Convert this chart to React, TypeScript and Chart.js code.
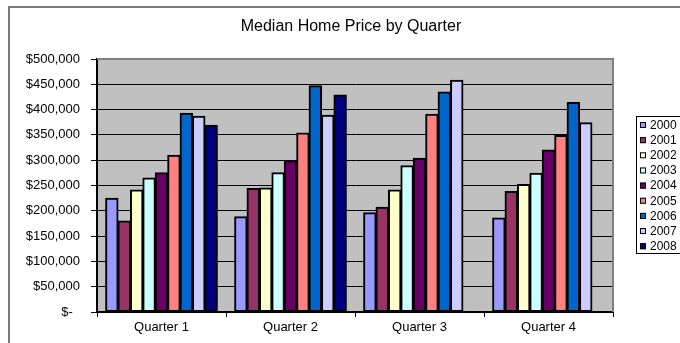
import React, { useEffect, useRef } from "react";
import { Chart, registerables } from "chart.js";

Chart.register(...registerables);

const titleText = "Median Home Price by Quarter";
const categories = ["Quarter 1", "Quarter 2", "Quarter 3", "Quarter 4"];
const years = ["2000", "2001", "2002", "2003", "2004", "2005", "2006", "2007", "2008"];

const s2000 = [225000, 188000, 196000, 186000];
const s2001 = [180000, 244000, 207000, 238000];
const s2002 = [241000, 245000, 241000, 252000];
const s2003 = [265000, 275000, 289000, 274000];
const s2004 = [275000, 299000, 304000, 320000];
const s2005 = [310000, 354000, 391000, 349000];
const s2006 = [393000, 447000, 435000, 414000];
const s2007 = [387000, 389000, 458000, 374000];
const s2008 = [369000, 429000, null, null];

const seriesValues = [s2000, s2001, s2002, s2003, s2004, s2005, s2006, s2007, s2008];
const seriesColors = ["#9999FF", "#993366", "#FFFFCC", "#CCFFFF", "#660066", "#FF8080", "#0066CC", "#CCCCFF", "#000080"];

const yTickLabels = ["$-  ", "$50,000", "$100,000", "$150,000", "$200,000", "$250,000", "$300,000", "$350,000", "$400,000", "$450,000", "$500,000"];

const FONT = "'Liberation Sans', Arial, sans-serif";

const decor = {
  id: "decor",
  beforeDraw(chart: any) {
    const { ctx, chartArea: a } = chart;
    ctx.save();
    ctx.fillStyle = "#ffffff";
    ctx.fillRect(0, 0, chart.width, chart.height);
    ctx.strokeStyle = "#7a7a7a";
    ctx.lineWidth = 2;
    ctx.beginPath();
    ctx.moveTo(9, chart.height + 2);
    ctx.lineTo(9, 7);
    ctx.lineTo(chart.width + 2, 7);
    ctx.stroke();
    ctx.fillStyle = "#C0C0C0";
    ctx.fillRect(a.left, a.top, a.right - a.left, a.bottom - a.top);
    ctx.restore();
  },
  afterDraw(chart: any) {
    const { ctx, chartArea: a } = chart;
    ctx.save();
    ctx.strokeStyle = "#808080";
    ctx.lineWidth = 2;
    ctx.beginPath();
    ctx.moveTo(a.left, a.top);
    ctx.lineTo(a.right, a.top);
    ctx.lineTo(a.right, a.bottom);
    ctx.stroke();
    ctx.fillStyle = "#000";
    ctx.font = `16px ${FONT}`;
    ctx.textAlign = "center";
    ctx.textBaseline = "middle";
    ctx.fillText(titleText, 351, 27);
    const lx = 636.5, ly = 116.5, lh = 137;
    ctx.strokeStyle = "#000";
    ctx.lineWidth = 1;
    ctx.strokeRect(lx, ly, 60, lh);
    ctx.font = `12px ${FONT}`;
    ctx.textAlign = "left";
    chart.data.datasets.forEach((ds: any, i: number) => {
      const cy = 125 + i * 15.15;
      ctx.fillStyle = ds.backgroundColor;
      ctx.fillRect(640, cy - 3, 6, 6);
      ctx.strokeStyle = "#000";
      ctx.lineWidth = 1;
      ctx.strokeRect(640.5, cy - 2.5, 5, 5);
      ctx.fillStyle = "#000";
      ctx.fillText(ds.label, 650, cy + 0.5);
    });
    ctx.restore();
  },
};

export default function App() {
  const ref = useRef<HTMLCanvasElement | null>(null);
  useEffect(() => {
    if (!ref.current) return;
    const chart = new Chart(ref.current, {
      type: "bar",
      data: {
        labels: categories,
        datasets: years.map((y, i) => ({
          label: y,
          data: seriesValues[i],
          backgroundColor: seriesColors[i],
          borderColor: "#000000",
          borderWidth: 2,
          borderSkipped: false,
          inflateAmount: 0.5,
          categoryPercentage: 0.866,
          barPercentage: 1,
        })),
      },
      options: {
        animation: false,
        responsive: false,
        devicePixelRatio: 1,
        layout: { padding: { left: 26, right: 67, top: 59, bottom: 0 } },
        plugins: {
          legend: { display: false },
          title: { display: false },
          tooltip: { enabled: false },
        },
        scales: {
          x: {
            afterFit: (s: any) => {
              s.height = 31;
            },
            grid: { drawOnChartArea: false, drawTicks: true, tickLength: 5, color: "#000", lineWidth: 1 },
            border: { color: "#000", width: 2 },
            ticks: { color: "#000", font: { family: FONT, size: 13 }, padding: 3 },
          },
          y: {
            min: 0,
            max: 500000,
            afterFit: (s: any) => {
              s.width = 71;
            },
            grid: { color: "#000", lineWidth: 1, drawTicks: true, tickLength: 6 },
            border: { color: "#000", width: 2 },
            ticks: {
              stepSize: 50000,
              color: "#000",
              font: { family: FONT, size: 13 },
              padding: 11,
              callback: (_v: any, idx: number) => yTickLabels[idx],
            },
          },
        },
      },
      plugins: [decor],
    });
    return () => chart.destroy();
  }, []);
  return (
    <div style={{ position: "absolute", left: 0, top: 0, width: 680, height: 343 }}>
      <canvas ref={ref} width={680} height={343} />
    </div>
  );
}
